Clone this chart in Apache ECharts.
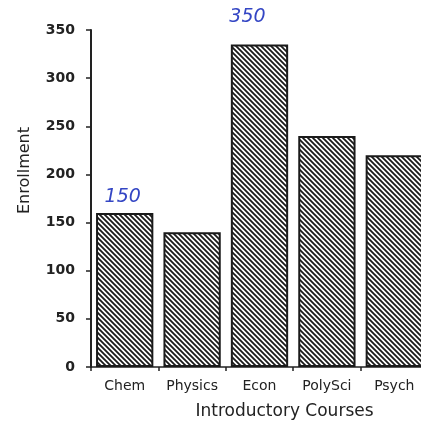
<!DOCTYPE html>
<html>
<head>
<meta charset="utf-8">
<script src="https://cdn.jsdelivr.net/npm/echarts@6/dist/echarts.min.js"></script>
<style>html,body{margin:0;padding:0;background:#fff;}#c{width:421px;height:431px;}</style>
</head>
<body>
<div id="c"></div>
<script>
const categories = ['Chem', 'Physics', 'Econ', 'PolySci', 'Psych'];
const enrollment = [160, 140, 335, 240, 220];
const annotations = ['150', '', '350', '', ''];
const yTicks = [0, 50, 100, 150, 200, 250, 300, 350];

function hatch() {
  const s = 5;
  const cv = document.createElement('canvas');
  cv.width = s; cv.height = s;
  const g = cv.getContext('2d');
  g.fillStyle = '#fff'; g.fillRect(0, 0, s, s);
  g.strokeStyle = '#1a1a1a'; g.lineWidth = 1.8;
  g.beginPath();
  g.moveTo(-1, -1); g.lineTo(s + 1, s + 1);
  g.moveTo(-1, s - 1); g.lineTo(1, s + 1);
  g.moveTo(s - 1, -1); g.lineTo(s + 1, 1);
  g.stroke();
  return cv;
}
const pat = { image: hatch(), repeat: 'repeat' };

const annOffsets = [[-2, 0], [0, 0], [-12, -12], [0, 0], [0, 0]];
const data = enrollment.map((v, i) => ({
  value: v,
  label: {
    show: annotations[i] !== '',
    formatter: annotations[i],
    position: 'top',
    distance: 6,
    offset: annOffsets[i],
    color: '#3446c4',
    fontFamily: 'DejaVu Sans',
    fontStyle: 'italic',
    fontSize: 19
  }
}));

const chart = echarts.init(document.getElementById('c'));
chart.setOption({
  animation: false,
  backgroundColor: '#fff',
  grid: { left: 91, top: 30, bottom: 64, width: 337, outerBoundsMode: 'none' },
  xAxis: {
    type: 'category',
    data: categories,
    name: 'Introductory Courses',
    nameLocation: 'middle',
    nameGap: 36,
    nameTextStyle: { fontFamily: 'DejaVu Sans', fontSize: 17, color: '#222', padding: [0, 0, 0, 50] },
    axisLine: { lineStyle: { color: '#222', width: 1.5 } },
    axisTick: { show: true, length: 4, inside: false, lineStyle: { color: '#222', width: 1.5 } },
    axisLabel: { margin: 12, fontFamily: 'DejaVu Sans', fontSize: 14, color: '#222' }
  },
  yAxis: {
    type: 'value',
    min: 0, max: 350, interval: 50,
    name: 'Enrollment',
    nameLocation: 'middle',
    nameGap: 58,
    nameTextStyle: { fontFamily: 'DejaVu Sans', fontSize: 16, color: '#222', padding: [0, 0, 0, 56] },
    axisLine: { show: true, lineStyle: { color: '#222', width: 2 } },
    axisTick: { show: true, length: 5, lineStyle: { color: '#222', width: 1.5 } },
    splitLine: { show: false },
    axisLabel: {
      margin: 16, fontFamily: 'DejaVu Sans', fontWeight: 'bold', fontSize: 14, color: '#222',
      formatter: v => yTicks.includes(v) ? String(v) : ''
    }
  },
  series: [{
    type: 'bar',
    data: data,
    barCategoryGap: '15%',
    itemStyle: { color: pat, borderColor: '#1a1a1a', borderWidth: 2 }
  }]
});
</script>
</body>
</html>
